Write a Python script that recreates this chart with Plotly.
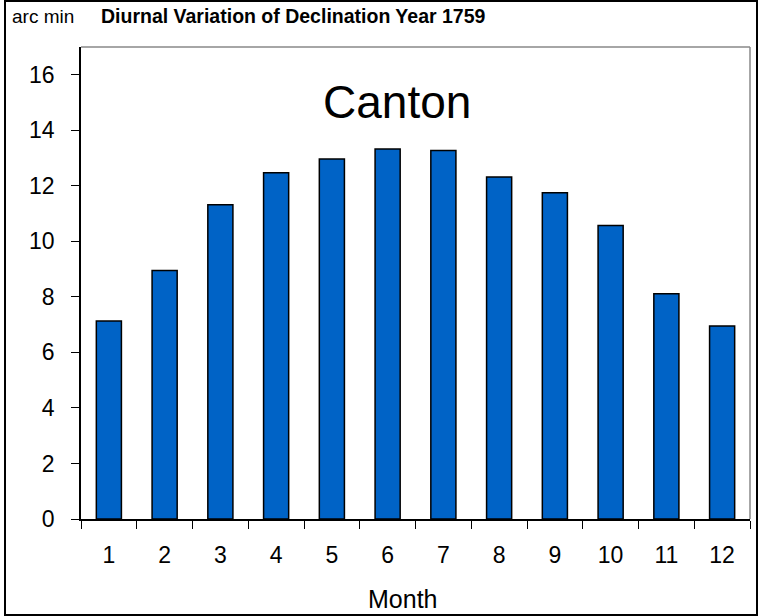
import plotly.graph_objects as go

# monthly diurnal range of declination, Canton 1759
months = [str(m) for m in range(1, 13)]
declination = [7.13, 8.95, 11.32, 12.47, 12.97, 13.33, 13.27, 12.32, 11.75, 10.57, 8.11, 6.95]

font_family = "Liberation Sans, Arial, sans-serif"

fig = go.Figure(
    go.Bar(
        x=months,
        y=declination,
        marker=dict(color="#0063C6", line=dict(color="black", width=1.5)),
    )
)

fig.update_layout(
    width=759,
    height=616,
    margin=dict(l=81, r=9, t=47, b=97),
    paper_bgcolor="white",
    plot_bgcolor="white",
    bargap=0.55,
    showlegend=False,
    font=dict(family=font_family, size=23, color="black"),
)

fig.update_xaxes(
    type="category",
    tickson="boundaries",
    ticks="outside",
    ticklen=8,
    tickcolor="black",
    showline=True,
    linecolor="black",
    linewidth=1.5,
    showgrid=False,
    ticklabelstandoff=15,
    tickfont=dict(size=23),
)

fig.update_yaxes(
    range=[0, 17],
    tickvals=list(range(0, 17, 2)),
    ticks="outside",
    ticklen=8,
    tickcolor="black",
    showline=True,
    linecolor="black",
    linewidth=1.5,
    showgrid=False,
    zeroline=False,
    ticklabelstandoff=12,
    tickfont=dict(size=23),
)

# gray frame on top and right of plot area
fig.add_shape(type="line", xref="paper", yref="paper", x0=0, x1=1, y0=1, y1=1,
              line=dict(color="#888888", width=1.5))
fig.add_shape(type="line", xref="paper", yref="paper", x0=1, x1=1, y0=0, y1=1,
              line=dict(color="#888888", width=1.5))

# outer border of the whole chart
fig.add_shape(type="rect", xref="paper", yref="paper",
              x0=-76 / 669, x1=1 + 7 / 669, y0=-96 / 472, y1=1 + 46 / 472,
              line=dict(color="black", width=2))

fig.add_annotation(text="arc min", xref="paper", yref="paper",
                   x=-71 / 669, y=1 + 31 / 472, xanchor="left", yanchor="middle",
                   showarrow=False, font=dict(size=19))
fig.add_annotation(text="<b>Diurnal Variation of Declination Year 1759</b>",
                   xref="paper", yref="paper",
                   x=18 / 669, y=1 + 31 / 472, xanchor="left", yanchor="middle",
                   showarrow=False, font=dict(size=19.5))
fig.add_annotation(text="Canton", xref="paper", yref="paper",
                   x=316 / 669, y=1 - 55 / 472, xanchor="center", yanchor="middle",
                   showarrow=False, font=dict(size=46))
fig.add_annotation(text="Month", xref="paper", yref="paper",
                   x=321 / 669, y=-80 / 472, xanchor="center", yanchor="middle",
                   showarrow=False, font=dict(size=25))

fig.write_html(
    "out.html",
    config={"displayModeBar": False},
    post_script="document.body.style.margin='0';document.body.style.overflow='hidden';",
)
